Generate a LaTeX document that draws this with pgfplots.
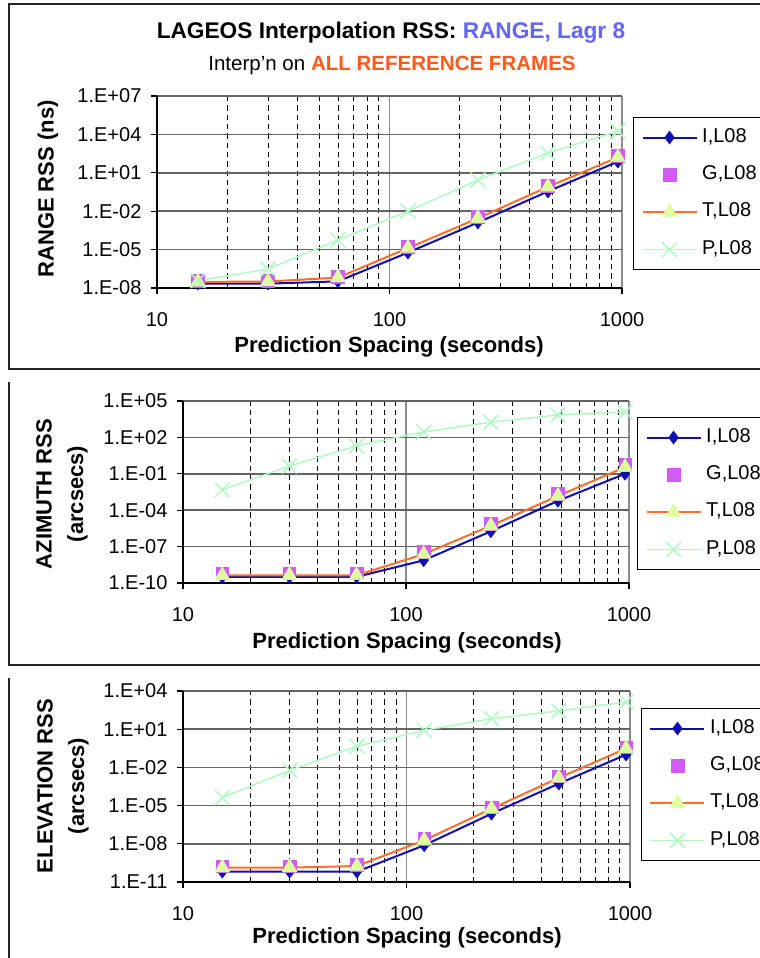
\documentclass[border=0pt]{standalone}
\usepackage{fontspec}
\setmainfont{Liberation Sans}
\usepackage{pgfplots}
\pgfplotsset{compat=1.18}

\definecolor{iblue}{RGB}{16,16,176}
\definecolor{gmag}{RGB}{210,90,245}
\definecolor{torange}{RGB}{255,110,40}
\definecolor{tfill}{RGB}{222,255,160}
\definecolor{pgreen}{RGB}{175,250,195}
\definecolor{ttlblue}{RGB}{100,100,255}
\definecolor{ttlorange}{RGB}{255,90,30}
\definecolor{gridgray}{RGB}{100,100,100}

\pgfplotsset{
  scale only axis, xmin=10, xmax=1000,
  axis x line*=bottom, axis y line*=left,
  axis line style={black, line width=1pt, -},
  xtick={10,100,1000}, xticklabels={10,100,1000},
  xmajorgrids, ymajorgrids, xminorgrids,
  major x grid style={black!45, line width=0.9pt},
  major y grid style={gridgray, line width=1.1pt},
  minor x grid style={black, line width=0.6pt, dash pattern=on 4pt off 3pt},
  minor tick length=0pt, major tick length=4.5pt,
  tick align=outside, tick style={black, line width=0.8pt},
  tick label style={font=\fontsize{15}{18}\selectfont},
  yticklabel style={anchor=east, inner sep=0pt, xshift=-7pt},
  xticklabel style={anchor=north, inner sep=0pt, yshift=-14pt},
  clip=false,
  legend cell align=left,
  legend style={draw=black, line width=0.75pt, fill=white, anchor=north west,
    inner xsep=6pt, inner ysep=8pt, row sep=14pt, column sep=3.5pt,
    font=\fontsize{15}{18}\selectfont,
    nodes={inner sep=0pt, text height=10.5pt, text depth=3.5pt}},
  legend image code/.code={%
    \draw[mark repeat=2,mark phase=2,#1] plot coordinates {(0pt,0pt) (20.25pt,0pt) (40.5pt,0pt)};},
  gleg/.style={legend image code/.code={\draw[##1] plot coordinates {(20.25pt,0pt)};}},
}

\begin{document}
\begin{tikzpicture}[x=0.75pt,y=-0.75pt]
\useasboundingbox (0,0) rectangle (760,958);

% panel frames
\draw[line width=1.2pt, black!85] (800,4) -- (9,4) -- (9,369) -- (800,369);
\draw[line width=1.2pt, black!85] (9,382) -- (9,665) -- (800,665);
\draw[line width=1.2pt, black!85] (9,678) -- (9,975);

\coordinate (p1) at (157,288);
\coordinate (p2) at (183,583);
\coordinate (p3) at (183,882);

% ---------------- RANGE ----------------
\node[font=\bfseries\fontsize{17}{20}\selectfont] at (391,33)
  {LAGEOS Interpolation RSS: \textcolor{ttlblue}{RANGE, Lagr 8}};
\node[font=\fontsize{15.4}{18}\selectfont] at (392,65)
  {Interp'n on \textcolor{ttlorange}{\bfseries ALL REFERENCE FRAMES}};

\begin{axis}[xmode=log, ymode=log, at={(p1)}, anchor=south west, width=348.75pt, height=144pt,
  ymin=1e-8, ymax=1e7,
  ytick={1e-8,1e-5,1e-2,1e1,1e4,1e7},
  yticklabels={1.E-08,1.E-05,1.E-02,1.E+01,1.E+04,1.E+07},
  legend style={at={(1.0237,0.8906)}}]
\addplot[color=iblue, line width=1.5pt, mark=diamond*, mark size=4.9pt,
    mark options={fill=iblue, draw=iblue, line width=0.3pt}]
  coordinates {(15,2.2e-8) (30,2.2e-8) (60,3.3e-8) (120,5.8e-6) (240,1.3e-3) (480,0.35) (960,75)};
\addlegendentry{I,L08}
\addplot[only marks, mark=square*, mark size=4.7pt, gleg,
    mark options={fill=gmag, draw=gmag, line width=0.3pt}]
  coordinates {(15,3.7e-8) (30,3.8e-8) (60,8e-8) (120,1.7e-5) (240,3.6e-3) (480,1.0) (960,210)};
\addlegendentry{G,L08}
\addplot[color=torange, line width=1.5pt, mark=triangle*, mark size=6.5pt,
    mark options={fill=tfill, draw=tfill, line width=0.3pt}]
  coordinates {(15,3.0e-8) (30,3.2e-8) (60,6.5e-8) (120,1.3e-5) (240,2.8e-3) (480,0.8) (960,160)};
\addlegendentry{T,L08}
\addplot[color=pgreen, line width=1.1pt, mark=x, mark size=7.9pt]
  coordinates {(15,3.7e-8) (30,3.0e-7) (60,5.6e-5) (120,1.0e-2) (240,2.7) (480,350) (960,1.8e4)};
\addlegendentry{P,L08}
\end{axis}
\node[rotate=90, font=\bfseries\fontsize{16.5}{20}\selectfont] at (48,189) {RANGE RSS (ns)};
\node[font=\bfseries\fontsize{16.5}{20}\selectfont] at (389,347) {Prediction Spacing (seconds)};

% ---------------- AZIMUTH ----------------
\begin{axis}[xmode=log, ymode=log, at={(p2)}, anchor=south west, width=334.5pt, height=136.5pt,
  ymin=1e-10, ymax=1e5,
  ytick={1e-10,1e-7,1e-4,1e-1,1e2,1e5},
  yticklabels={1.E-10,1.E-07,1.E-04,1.E-01,1.E+02,1.E+05},
  legend style={at={(1.018,0.912)}}]
\addplot[color=iblue, line width=1.5pt, mark=diamond*, mark size=4.9pt,
    mark options={fill=iblue, draw=iblue, line width=0.3pt}]
  coordinates {(15,3.2e-10) (30,3.2e-10) (60,3.2e-10) (120,7.4e-9) (240,1.8e-6) (480,5.9e-4) (960,0.1)};
\addlegendentry{I,L08}
\addplot[only marks, mark=square*, mark size=4.7pt, gleg,
    mark options={fill=gmag, draw=gmag, line width=0.3pt}]
  coordinates {(15,6.6e-10) (30,6.6e-10) (60,6.6e-10) (120,4e-8) (240,7.6e-6) (480,2.2e-3) (960,0.55)};
\addlegendentry{G,L08}
\addplot[color=torange, line width=1.5pt, mark=triangle*, mark size=6.5pt,
    mark options={fill=tfill, draw=tfill, line width=0.3pt}]
  coordinates {(15,4.3e-10) (30,4.3e-10) (60,4.3e-10) (120,2.4e-8) (240,5.2e-6) (480,1.5e-3) (960,0.35)};
\addlegendentry{T,L08}
\addplot[color=pgreen, line width=1.1pt, mark=x, mark size=7.9pt]
  coordinates {(15,4.8e-3) (30,0.43) (60,20) (120,282) (240,1780) (480,7080) (960,1.25e4)};
\addlegendentry{P,L08}
\end{axis}
\node[rotate=90, align=center, font=\bfseries\fontsize{16.5}{23.6}\selectfont] at (62,494) {AZIMUTH RSS\\(arcsecs)};
\node[font=\bfseries\fontsize{16.5}{20}\selectfont] at (407,643) {Prediction Spacing (seconds)};

% ---------------- ELEVATION ----------------
\begin{axis}[xmode=log, ymode=log, at={(p3)}, anchor=south west, width=335.25pt, height=143.25pt,
  ymin=1e-11, ymax=1e4,
  ytick={1e-11,1e-8,1e-5,1e-2,1e1,1e4},
  yticklabels={1.E-11,1.E-08,1.E-05,1.E-02,1.E+01,1.E+04},
  legend style={at={(1.0246,0.911)}}]
\addplot[color=iblue, line width=1.5pt, mark=diamond*, mark size=4.9pt,
    mark options={fill=iblue, draw=iblue, line width=0.3pt}]
  coordinates {(15,6.5e-11) (30,6.5e-11) (60,6.5e-11) (120,7.6e-9) (240,2.3e-6) (480,5.3e-4) (960,0.1)};
\addlegendentry{I,L08}
\addplot[only marks, mark=square*, mark size=4.7pt, gleg,
    mark options={fill=gmag, draw=gmag, line width=0.3pt}]
  coordinates {(15,1.8e-10) (30,1.8e-10) (60,2.4e-10) (120,2.5e-8) (240,7.5e-6) (480,2e-3) (960,0.4)};
\addlegendentry{G,L08}
\addplot[color=torange, line width=1.5pt, mark=triangle*, mark size=6.5pt,
    mark options={fill=tfill, draw=tfill, line width=0.3pt}]
  coordinates {(15,1.35e-10) (30,1.35e-10) (60,1.8e-10) (120,1.9e-8) (240,5.7e-6) (480,1.5e-3) (960,0.3)};
\addlegendentry{T,L08}
\addplot[color=pgreen, line width=1.1pt, mark=x, mark size=7.9pt]
  coordinates {(15,4.2e-5) (30,5.9e-3) (60,0.45) (120,8.1) (240,67) (480,270) (960,1380)};
\addlegendentry{P,L08}
\end{axis}
\node[rotate=90, align=center, font=\bfseries\fontsize{16.5}{23.6}\selectfont] at (63,786) {ELEVATION RSS\\(arcsecs)};
\node[font=\bfseries\fontsize{16.5}{20}\selectfont] at (407,938) {Prediction Spacing (seconds)};
\end{tikzpicture}
\end{document}
